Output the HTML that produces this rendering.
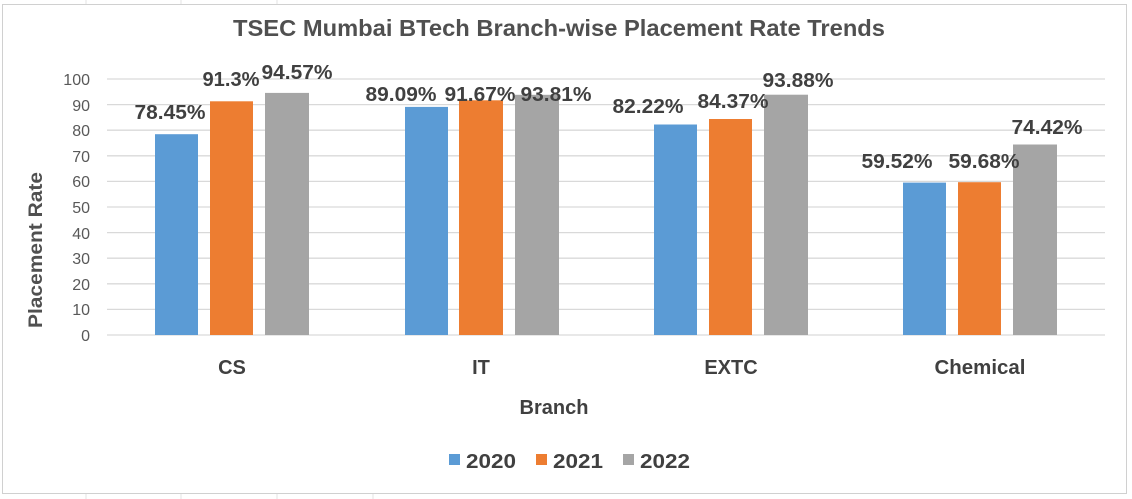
<!DOCTYPE html>
<html><head><meta charset="utf-8"><style>
body{margin:0;background:#fff;}
svg{display:block;font-family:"Liberation Sans",Calibri,sans-serif;}
</style></head><body>
<svg width="1132" height="499" viewBox="0 0 1132 499">
<rect x="0" y="0" width="1132" height="499" fill="#fff"/>
<g stroke="#e3e3e3" stroke-width="1">
<line x1="86" y1="0" x2="86" y2="4"/><line x1="181" y1="0" x2="181" y2="4"/><line x1="277" y1="0" x2="277" y2="4"/>
<line x1="86" y1="494" x2="86" y2="499"/><line x1="181" y1="494" x2="181" y2="499"/><line x1="277" y1="494" x2="277" y2="499"/><line x1="373" y1="494" x2="373" y2="499"/>
</g>
<rect x="2.5" y="4.5" width="1124" height="489" fill="#fff" stroke="#d0d0d0"/>
<text x="233" y="36" textLength="652" lengthAdjust="spacingAndGlyphs" font-size="23" font-weight="bold" fill="#505050">TSEC Mumbai BTech Branch-wise Placement Rate Trends</text>
<g stroke="#d9d9d9" stroke-width="1.3">
<line x1="107" x2="1105" y1="335" y2="335"/><line x1="107" x2="1105" y1="309.4" y2="309.4"/>
<line x1="107" x2="1105" y1="283.8" y2="283.8"/><line x1="107" x2="1105" y1="258.2" y2="258.2"/>
<line x1="107" x2="1105" y1="232.6" y2="232.6"/><line x1="107" x2="1105" y1="207" y2="207"/>
<line x1="107" x2="1105" y1="181.4" y2="181.4"/><line x1="107" x2="1105" y1="155.8" y2="155.8"/>
<line x1="107" x2="1105" y1="130.2" y2="130.2"/><line x1="107" x2="1105" y1="104.6" y2="104.6"/>
<line x1="107" x2="1105" y1="79" y2="79"/>
</g>
<g font-size="16" fill="#595959" text-anchor="end">
<text x="90" y="341">0</text><text x="90" y="315">10</text><text x="90" y="290">20</text><text x="90" y="264">30</text>
<text x="90" y="239">40</text><text x="90" y="213">50</text><text x="90" y="187">60</text><text x="90" y="162">70</text>
<text x="90" y="136">80</text><text x="90" y="111">90</text><text x="90" y="85">100</text>
</g>
<text transform="translate(42,250) rotate(-90)" text-anchor="middle" textLength="156" lengthAdjust="spacingAndGlyphs" font-size="19" font-weight="bold" fill="#505050">Placement Rate</text>
<g>
<rect x="155" y="134.2" width="43" height="200.8" fill="#5b9bd5"/>
<rect x="210" y="101.3" width="43" height="233.7" fill="#ed7d31"/>
<rect x="265" y="92.9" width="44" height="242.1" fill="#a5a5a5"/>
<rect x="405" y="106.9" width="43" height="228.1" fill="#5b9bd5"/>
<rect x="459" y="100.3" width="44" height="234.7" fill="#ed7d31"/>
<rect x="515" y="94.8" width="44" height="240.2" fill="#a5a5a5"/>
<rect x="654" y="124.5" width="43" height="210.5" fill="#5b9bd5"/>
<rect x="709" y="119" width="43" height="216" fill="#ed7d31"/>
<rect x="764" y="94.7" width="44" height="240.3" fill="#a5a5a5"/>
<rect x="903" y="182.6" width="43" height="152.4" fill="#5b9bd5"/>
<rect x="958" y="182.2" width="43" height="152.8" fill="#ed7d31"/>
<rect x="1013" y="144.5" width="44" height="190.5" fill="#a5a5a5"/>
</g>
<g font-size="20" font-weight="bold" fill="#404040" text-anchor="middle">
<text x="170" y="119" textLength="71" lengthAdjust="spacingAndGlyphs">78.45%</text>
<text x="231" y="86" textLength="57" lengthAdjust="spacingAndGlyphs">91.3%</text>
<text x="297" y="79" textLength="71" lengthAdjust="spacingAndGlyphs">94.57%</text>
<text x="401" y="101" textLength="71" lengthAdjust="spacingAndGlyphs">89.09%</text>
<text x="480" y="101" textLength="71" lengthAdjust="spacingAndGlyphs">91.67%</text>
<text x="556" y="101" textLength="71" lengthAdjust="spacingAndGlyphs">93.81%</text>
<text x="648" y="113" textLength="71" lengthAdjust="spacingAndGlyphs">82.22%</text>
<text x="733" y="108" textLength="71" lengthAdjust="spacingAndGlyphs">84.37%</text>
<text x="798" y="87" textLength="71" lengthAdjust="spacingAndGlyphs">93.88%</text>
<text x="897" y="168" textLength="71" lengthAdjust="spacingAndGlyphs">59.52%</text>
<text x="984" y="168" textLength="71" lengthAdjust="spacingAndGlyphs">59.68%</text>
<text x="1047" y="134" textLength="71" lengthAdjust="spacingAndGlyphs">74.42%</text>
</g>
<g font-size="20" font-weight="bold" fill="#404040" text-anchor="middle">
<text x="232" y="374">CS</text><text x="481" y="374">IT</text><text x="731" y="374">EXTC</text>
<text x="980" y="374" textLength="91" lengthAdjust="spacingAndGlyphs">Chemical</text>
<text x="554" y="414">Branch</text>
</g>
<g font-size="20" font-weight="bold" fill="#404040">
<rect x="449" y="454" width="11" height="11" fill="#5b9bd5"/><text x="466" y="468" textLength="50" lengthAdjust="spacingAndGlyphs">2020</text>
<rect x="536" y="454" width="11" height="11" fill="#ed7d31"/><text x="553" y="468" textLength="50" lengthAdjust="spacingAndGlyphs">2021</text>
<rect x="623" y="454" width="11" height="11" fill="#a5a5a5"/><text x="640" y="468" textLength="50" lengthAdjust="spacingAndGlyphs">2022</text>
</g>
</svg>
</body></html>
